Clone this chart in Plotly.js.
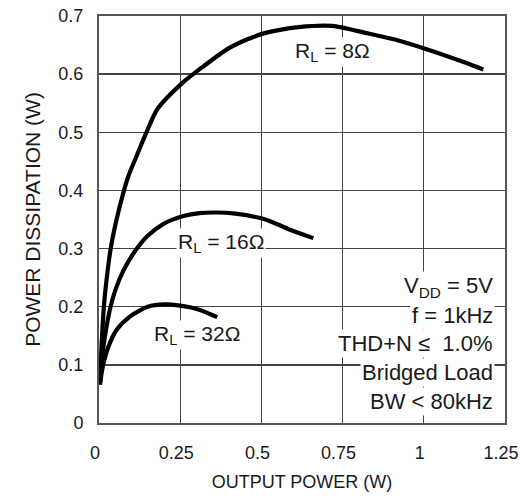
<!DOCTYPE html>
<html>
<head>
<meta charset="utf-8">
<script src="https://cdn.plot.ly/plotly-3.0.1.min.js"></script>
<style>html,body{margin:0;padding:0;background:#fff;}#chart{width:530px;height:496px;}</style>
</head>
<body>
<div id="chart"></div>
<script>
// Output power (W) and power dissipation (W) for each load
const outPower8 = [0.003, 0.008, 0.015, 0.024, 0.036, 0.05, 0.072, 0.09, 0.12, 0.146, 0.18, 0.257, 0.323, 0.395, 0.457, 0.513, 0.615, 0.718, 0.82, 0.921, 1.025, 1.127, 1.183];
const dissip8   = [0.066, 0.135, 0.2, 0.25, 0.3, 0.34, 0.39, 0.424, 0.465, 0.5, 0.54, 0.585, 0.614, 0.643, 0.66, 0.671, 0.681, 0.683, 0.671, 0.658, 0.64, 0.62, 0.608];

const outPower16 = [0.003, 0.01, 0.02, 0.034, 0.05, 0.075, 0.11, 0.15, 0.2, 0.26, 0.31, 0.36, 0.42, 0.5, 0.54, 0.59, 0.66];
const dissip16   = [0.066, 0.115, 0.155, 0.196, 0.228, 0.262, 0.295, 0.322, 0.343, 0.356, 0.361, 0.362, 0.36, 0.352, 0.344, 0.332, 0.318];

const outPower32 = [0.003, 0.013, 0.029, 0.054, 0.095, 0.15, 0.203, 0.25, 0.28, 0.313, 0.364];
const dissip32   = [0.068, 0.1, 0.131, 0.16, 0.183, 0.2, 0.204, 0.202, 0.199, 0.194, 0.182];

const curveLabels = ["R<sub>L</sub> = 8Ω", "R<sub>L</sub> = 16Ω", "R<sub>L</sub> = 32Ω"];
const labelX = [0.718, 0.376, 0.303];
const labelY = [0.638, 0.31, 0.151];

const conditionLines = ["V<sub>DD</sub> = 5V", "f = 1kHz", "THD+N ≤  1.0%", "Bridged Load", "BW < 80kHz"];
const conditionY = [0.2336, 0.1857, 0.1366, 0.0874, 0.0374];
const conditionX = 1.219;

const xTickVals = [0, 0.25, 0.5, 0.75, 1, 1.25];
const yTickVals = [0, 0.1, 0.2, 0.3, 0.4, 0.5, 0.6, 0.7];

const lineStyle = {color: '#000', width: 4.2, shape: 'spline', smoothing: 0.7};
const traces = [
  {x: outPower8, y: dissip8, mode: 'lines', line: lineStyle, hoverinfo: 'skip'},
  {x: outPower16, y: dissip16, mode: 'lines', line: lineStyle, hoverinfo: 'skip'},
  {x: outPower32, y: dissip32, mode: 'lines', line: lineStyle, hoverinfo: 'skip'}
];

const textFont = {family: 'Liberation Sans, Arial, sans-serif', color: '#1a1a1a'};
const annotations = [];
curveLabels.forEach((t, i) => annotations.push({
  x: labelX[i], y: labelY[i], xref: 'x', yref: 'y', text: t, showarrow: false,
  xanchor: 'center', yanchor: 'middle', bgcolor: '#fff', borderpad: 1,
  font: Object.assign({size: 21}, textFont)
}));
conditionLines.forEach((t, i) => annotations.push({
  x: conditionX, y: conditionY[i], xref: 'x', yref: 'y', text: t, showarrow: false,
  xanchor: 'right', yanchor: 'middle', align: 'right', bgcolor: '#fff', borderpad: 1,
  font: Object.assign({size: 22}, textFont)
}));

const axisCommon = {
  showgrid: true, gridcolor: '#444', gridwidth: 1.3, zeroline: false,
  showline: true, linecolor: '#555', linewidth: 2, mirror: true,
  ticks: '', tickfont: Object.assign({size: 18}, textFont)
};

const layout = {
  width: 530, height: 496,
  margin: {l: 99, r: 25, t: 16, b: 73},
  paper_bgcolor: '#fff', plot_bgcolor: '#fff',
  showlegend: false,
  xaxis: Object.assign({}, axisCommon, {
    range: [0, 1.25], tickvals: xTickVals, ticktext: xTickVals.map(String),
    ticklabelstandoff: 12, ticklabelshift: -4,
    title: {text: 'OUTPUT POWER (W)', font: Object.assign({size: 18}, textFont), standoff: 14}
  }),
  yaxis: Object.assign({}, axisCommon, {
    range: [0, 0.7], tickvals: yTickVals, ticktext: yTickVals.map(String),
    ticklabelstandoff: 10,
    title: {text: 'POWER DISSIPATION (W)', font: Object.assign({size: 21}, textFont), standoff: 12}
  }),
  annotations: annotations
};

Plotly.newPlot('chart', traces, layout, {staticPlot: true, displayModeBar: false});
</script>
</body>
</html>
